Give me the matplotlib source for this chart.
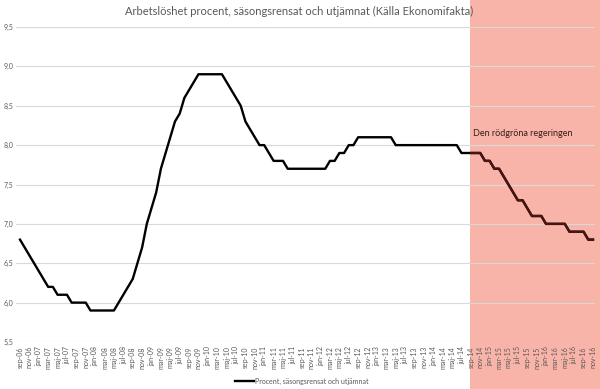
import matplotlib
matplotlib.use('Agg')
import matplotlib.pyplot as plt
from matplotlib.patches import Rectangle
from matplotlib import ticker
import numpy as np

plt.rcParams['font.family'] = ['Lato', 'DejaVu Sans']

# monthly values, sep-06 .. nov-16
months_sv = ['jan', 'feb', 'mar', 'apr', 'maj', 'jun', 'jul', 'aug', 'sep', 'okt', 'nov', 'dec']
month_labels = [f"{months_sv[(8 + k) % 12]}-{6 + (8 + k) // 12:02d}" for k in range(123)]

unemployment = [
    6.8, 6.7, 6.6, 6.5, 6.4, 6.3, 6.2, 6.2, 6.1, 6.1, 6.1, 6.0,   # sep-06 .. aug-07
    6.0, 6.0, 6.0, 5.9, 5.9, 5.9, 5.9, 5.9, 5.9, 6.0, 6.1, 6.2,   # sep-07 .. aug-08
    6.3, 6.5, 6.7, 7.0, 7.2, 7.4, 7.7, 7.9, 8.1, 8.3, 8.4, 8.6,   # sep-08 .. aug-09
    8.7, 8.8, 8.9, 8.9, 8.9, 8.9, 8.9, 8.9, 8.8, 8.7, 8.6, 8.5,   # sep-09 .. aug-10
    8.3, 8.2, 8.1, 8.0, 8.0, 7.9, 7.8, 7.8, 7.8, 7.7, 7.7, 7.7,   # sep-10 .. aug-11
    7.7, 7.7, 7.7, 7.7, 7.7, 7.7, 7.8, 7.8, 7.9, 7.9, 8.0, 8.0,   # sep-11 .. aug-12
    8.1, 8.1, 8.1, 8.1, 8.1, 8.1, 8.1, 8.1, 8.0, 8.0, 8.0, 8.0,   # sep-12 .. aug-13
    8.0, 8.0, 8.0, 8.0, 8.0, 8.0, 8.0, 8.0, 8.0, 8.0, 7.9, 7.9,   # sep-13 .. aug-14
    7.9, 7.9, 7.9, 7.8, 7.8, 7.7, 7.7, 7.6, 7.5, 7.4, 7.3, 7.3,   # sep-14 .. aug-15
    7.2, 7.1, 7.1, 7.1, 7.0, 7.0, 7.0, 7.0, 7.0, 6.9, 6.9, 6.9,   # sep-15 .. aug-16
    6.9, 6.8, 6.8,                                                # sep-16 .. nov-16
]
series_label = 'Procent, säsongsrensat och utjämnat'
title = 'Arbetslöshet procent, säsongsrensat och utjämnat (Källa Ekonomifakta)'
note = 'Den rödgröna regeringen'
red_start = 95.8   # shaded period begins just before sep-14

grey = '#595959'

fig = plt.figure(figsize=(6, 3.89), dpi=100)
ax = fig.add_axes([16 / 600, 1 - 342 / 389, 579 / 600, 315 / 389])
ax.patch.set_alpha(0)

x = np.arange(len(unemployment))
line, = ax.plot(x, unemployment, color='black', lw=1.7, label=series_label)
dark, = ax.plot(x, unemployment, color='#4a1410', lw=1.7)
dark.set_clip_path(Rectangle((red_start, 0), 200, 20, transform=ax.transData))

ax.set_xlim(-0.85, 122.43)
ax.set_ylim(5.5, 9.5)
ax.set_yticks(np.arange(5.5, 9.51, 0.5))
ax.yaxis.set_major_formatter(ticker.FuncFormatter(lambda v, p: f"{v:.1f}".replace('.', ',')))
ax.set_xticks(x[::2])
ax.set_xticklabels(month_labels[::2], rotation=90)
for pos, lab in zip(x[::2], ax.get_xticklabels()):
    if pos > red_start:
        lab.set_color('#7a3a32')

ax.tick_params(axis='both', length=0, labelsize=5, colors=grey)
ax.tick_params(axis='x', pad=3)
ax.tick_params(axis='y', pad=2)
for s in ax.spines.values():
    s.set_visible(False)
ax.grid(axis='y', color='#d9d9d9', lw=0.8)
ax.set_axisbelow(True)

ax.text(96.5, 8.15, note, fontsize=6.5, color='#3a1c17', va='center', ha='left')

fig.text(299 / 600, 1 - 11 / 389, title, ha='center', va='center', fontsize=8, color=grey)

fig.legend(handles=[line], loc='center', bbox_to_anchor=(302 / 600, 1 - 381 / 389),
           frameon=False, fontsize=5, handlelength=2.6, handletextpad=0.2, labelcolor=grey)

# red shading over the whole height, from the start of the period to the right edge
fx = fig.transFigure.inverted().transform(ax.transData.transform((red_start, 0)))[0]
fig.patches.append(Rectangle((fx, 0), 1 - fx, 1, transform=fig.transFigure,
                             facecolor='#f9b4aa', edgecolor='none', zorder=-10))

fig.savefig('out.png', dpi=100)
